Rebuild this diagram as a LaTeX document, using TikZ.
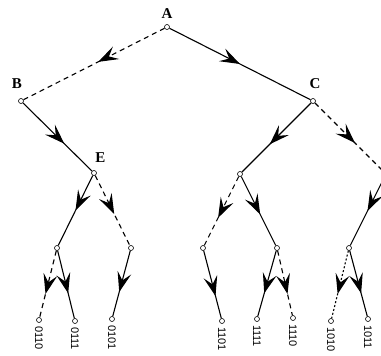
\documentclass[tikz,border=0pt]{standalone}
\usepackage{fontspec}
\setmainfont{Liberation Serif}
\newfontfamily\bitfont{Liberation Sans}
\usetikzlibrary{arrows.meta, positioning, decorations.markings}

\begin{document}
\begin{tikzpicture}[x=1pt, y=-1pt,
    vtx/.style={circle, draw, fill=white, inner sep=0pt, minimum size=5pt, line width=0.6pt},
    lab/.style={font=\bfseries\fontsize{15}{15}\selectfont, inner sep=0pt},
    bit/.style={font=\bitfont\fontsize{11}{11}\selectfont, rotate=-90, anchor=west, inner sep=0pt},
    edg/.style={line width=1.1pt},
    dashln/.style={edg, dash pattern=on 5pt off 4pt},
    dotln/.style={edg, dash pattern=on 2pt off 2pt},
    arr/.style={postaction={decorate, decoration={markings,
        mark=at position #1 with {\arrow{Stealth[length=20pt, width=14pt, inset=8pt]}}}}},
    arr/.default=0.55]
    \useasboundingbox (0,0) rectangle (381,356);
    \clip (0,0) rectangle (381,356);
    % --- nodos ---
    \node[vtx] (a) at (167,27) {};
    \node[vtx] (b) at (21,101) {};
    \node[vtx] (c) at (313,101) {};
    \node[vtx] (e) at (94,173) {};
    \node[vtx] (f) at (240,174) {};
    \node[vtx] (g) at (386,174) {};
    \node[vtx] (e1) at (57,248) {};
    \node[vtx] (e2) at (131,248) {};
    \node[vtx] (f1) at (203,248) {};
    \node[vtx] (f2) at (277,248) {};
    \node[vtx] (g1) at (349,248) {};
    \node[vtx] (l1) at (39,320) {};
    \node[vtx] (l2) at (75,321) {};
    \node[vtx] (l3) at (112,319) {};
    \node[vtx] (l4) at (222,321) {};
    \node[vtx] (l5) at (257,319) {};
    \node[vtx] (l6) at (293,318) {};
    \node[vtx] (l7) at (331,321) {};
    \node[vtx] (l8) at (368,319) {};
    % --- etiquetas ---
    \node[lab] (la) at (167,14) {A};
    \node[lab] (lb) at (17,84) {B};
    \node[lab] (lc) at (315,84) {C};
    \node[lab] (le) at (100.5,157.5) {E};
    % --- aristas ---
    \draw[dashln, arr=0.47] (a) -- (b);
    \draw[edg, arr=0.5] (a) -- (c);
    \draw[edg, arr=0.6] (b) -- (e);
    \draw[edg, arr=0.6] (c) -- (f);
    \draw[dashln, arr=0.58] (c) -- (g);
    \draw[edg, arr=0.5] (e) -- (e1);
    \draw[dashln, arr] (e) -- (e2);
    \draw[dashln, arr=0.6] (f) -- (f1);
    \draw[edg, arr] (f) -- (f2);
    \draw[edg, arr=0.5] (g) -- (g1);
    \draw[dashln, arr=0.65] (e1) -- (l1);
    \draw[edg, arr=0.63] (e1) -- (l2);
    \draw[edg, arr=0.63] (e2) -- (l3);
    \draw[edg, arr=0.67] (f1) -- (l4);
    \draw[edg, arr=0.65] (f2) -- (l5);
    \draw[dashln, arr=0.67] (f2) -- (l6);
    \draw[dotln, arr=0.64] (g1) -- (l7);
    \draw[edg, arr=0.65] (g1) -- (l8);
    % --- hojas ---
    \node[bit] at ([yshift=-3pt]l1.south) {0110};
    \node[bit] at ([yshift=-3pt]l2.south) {0111};
    \node[bit] at ([yshift=-3pt]l3.south) {0101};
    \node[bit] at ([yshift=-3pt]l4.south) {1101};
    \node[bit] at ([yshift=-3pt]l5.south) {1111};
    \node[bit] at ([yshift=-3pt]l6.south) {1110};
    \node[bit] at ([yshift=-3pt]l7.south) {1010};
    \node[bit] at ([yshift=-3pt]l8.south) {1011};
  \end{tikzpicture}
\end{document}
